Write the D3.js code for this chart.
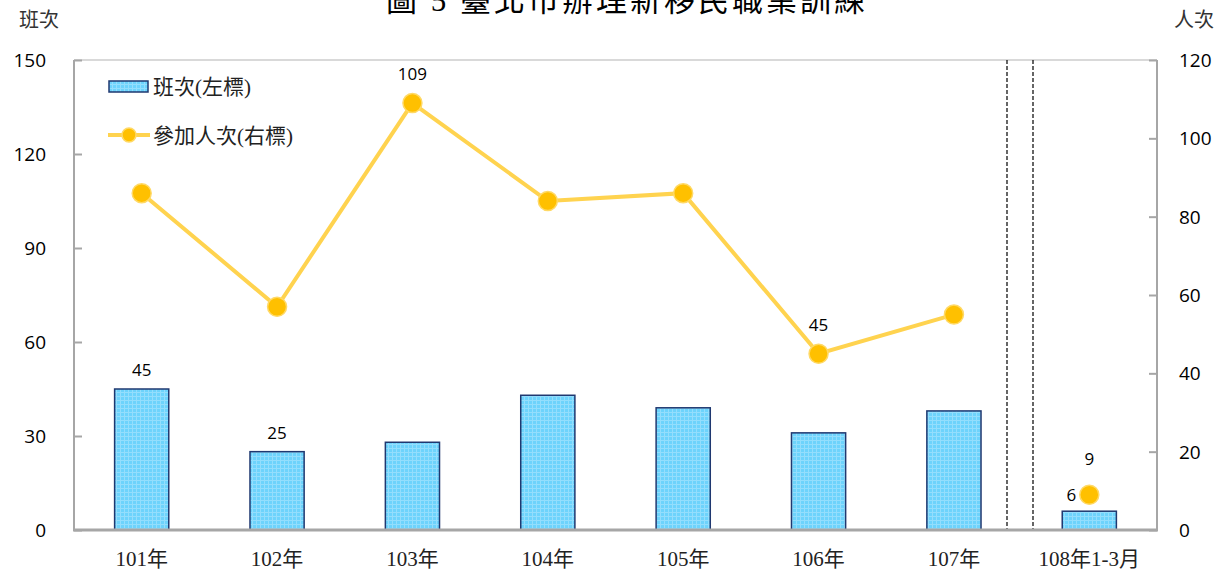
<!DOCTYPE html>
<html>
<head>
<meta charset="utf-8">
<script src="https://cdn.jsdelivr.net/npm/d3@7"></script>
<style>
body { margin: 0; background: #fff; }
</style>
</head>
<body>
<script>
var years = ["101年", "102年", "103年", "104年", "105年", "106年", "107年", "108年1-3月"];
var classes = [45, 25, 28, 43, 39, 31, 38, 6];
var people = [86, 57, 109, 84, 86, 45, 55, 9];
var leftTicks = [0, 30, 60, 90, 120, 150];
var rightTicks = [0, 20, 40, 60, 80, 100, 120];
// which bars / points carry a value label
var barLabels = [0, 1, 7];
var pointLabels = [2, 5, 7];

var width = 1231, height = 574;
var plotL = 74, plotR = 1157, plotT = 60, plotB = 530;
var serif = "'Liberation Serif', 'Noto Sans CJK TC', serif";
var sans = "'Open Sans', 'Noto Sans', sans-serif";

var svg = d3.select('body').append('svg')
        .attr('width', width)
        .attr('height', height);

// bar pattern
var defs = svg.append('defs');
var pat = defs.append('pattern')
        .attr('id', 'grid')
        .attr('patternUnits', 'userSpaceOnUse')
        .attr('width', 4)
        .attr('height', 4);
pat.append('rect').attr('width', 4).attr('height', 4).attr('fill', '#6dd3fc');
pat.append('path').attr('d', 'M0,0.5H4M0.5,0V4').attr('stroke', '#93defd').attr('stroke-width', 1);

var x = d3.scaleBand().domain(years).range([plotL, plotR]).paddingInner(0).paddingOuter(0);
var yL = d3.scaleLinear().domain([0, 150]).range([plotB, plotT]);
var yR = d3.scaleLinear().domain([0, 120]).range([plotB, plotT]);

// title (cut off at top, as in the source)
svg.append('text')
        .attr('x', 627)
        .attr('y', 11)
        .attr('text-anchor', 'middle')
        .attr('font-family', serif)
        .attr('font-size', 31)
        .attr('letter-spacing', 3)
        .text('圖 5 臺北市辦理新移民職業訓練');

// axis titles
svg.append('text').attr('x', 19).attr('y', 27).attr('font-family', serif).attr('font-size', 20).attr('fill', '#333').text('班次');
svg.append('text').attr('x', 1174).attr('y', 27).attr('font-family', serif).attr('font-size', 20).attr('fill', '#333').text('人次');

// frame top
svg.append('line').attr('x1', plotL).attr('x2', plotR).attr('y1', plotT).attr('y2', plotT)
        .attr('stroke', '#d9d9d9').attr('stroke-width', 2);

// bars
svg.selectAll('.bar').data(classes).enter().append('rect')
        .attr('x', function(d, i) { return x(years[i]) + x.bandwidth() * 0.3; })
        .attr('y', function(d) { return yL(d); })
        .attr('width', x.bandwidth() * 0.4)
        .attr('height', function(d) { return yL(0) - yL(d); })
        .attr('fill', 'url(#grid)')
        .attr('stroke', '#1f3870')
        .attr('stroke-width', 1.5);

// dashed separators
[1007, 1033].forEach(function(px) {
    svg.append('line').attr('x1', px).attr('x2', px).attr('y1', plotT).attr('y2', plotB)
            .attr('stroke', '#000').attr('stroke-width', 1.2).attr('stroke-dasharray', '4,2');
});

// left axis
var axL = svg.append('g').attr('transform', 'translate(' + plotL + ',0)')
        .call(d3.axisRight(yL).tickValues(leftTicks).tickSize(8).tickFormat(''));
axL.selectAll('line, path').attr('stroke', '#a6a6a6').attr('stroke-width', 2);
axL.select('.domain').attr('d', 'M0,' + plotT + 'V' + plotB);
svg.selectAll('.ltick').data(leftTicks).enter().append('text')
        .attr('x', 46).attr('y', function(d) { return yL(d) + 7; })
        .attr('text-anchor', 'end')
        .attr('font-family', sans).attr('font-size', 19)
        .text(function(d) { return d; });

// right axis
var axR = svg.append('g').attr('transform', 'translate(' + plotR + ',0)')
        .call(d3.axisLeft(yR).tickValues(rightTicks).tickSize(8).tickFormat(''));
axR.selectAll('line, path').attr('stroke', '#a6a6a6').attr('stroke-width', 2);
axR.select('.domain').attr('d', 'M0,' + plotT + 'V' + plotB);
svg.selectAll('.rtick').data(rightTicks).enter().append('text')
        .attr('x', 1179).attr('y', function(d) { return yR(d) + 7; })
        .attr('text-anchor', 'start')
        .attr('font-family', sans).attr('font-size', 19)
        .text(function(d) { return d; });

// bottom axis
svg.append('line').attr('x1', plotL - 1).attr('x2', plotR + 1).attr('y1', plotB).attr('y2', plotB)
        .attr('stroke', '#a6a6a6').attr('stroke-width', 3);
svg.selectAll('.xlab').data(years).enter().append('text')
        .attr('x', function(d) { return x(d) + x.bandwidth() / 2; })
        .attr('y', 566)
        .attr('text-anchor', 'middle')
        .attr('font-family', serif).attr('font-size', 21).attr('fill', '#222')
        .text(function(d) { return d; });

// line (first seven years connected, last one stands alone)
var lineFunc = d3.line()
        .x(function(d, i) { return x(years[i]) + x.bandwidth() / 2; })
        .y(function(d) { return yR(d); });
svg.append('path')
        .attr('d', lineFunc(people.slice(0, 7)))
        .attr('fill', 'none')
        .attr('stroke', '#ffd34f')
        .attr('stroke-width', 4);
svg.selectAll('.pt').data(people).enter().append('circle')
        .attr('cx', function(d, i) { return x(years[i]) + x.bandwidth() / 2; })
        .attr('cy', function(d) { return yR(d); })
        .attr('r', 9.5)
        .attr('fill', '#ffc000')
        .attr('stroke', '#ffd966')
        .attr('stroke-width', 1.5);

// value labels
barLabels.forEach(function(i) {
    var cx = x(years[i]) + x.bandwidth() / 2;
    var last = i === years.length - 1;
    svg.append('text')
            .attr('x', last ? cx - 18 : cx)
            .attr('y', last ? yR(people[i]) + 6 : yL(classes[i]) - 13)
            .attr('text-anchor', 'middle')
            .attr('font-family', sans).attr('font-size', 17)
            .text(classes[i]);
});
pointLabels.forEach(function(i) {
    var last = i === years.length - 1;
    svg.append('text')
            .attr('x', x(years[i]) + x.bandwidth() / 2)
            .attr('y', yR(people[i]) - (last ? 30 : 23))
            .attr('text-anchor', 'middle')
            .attr('font-family', sans).attr('font-size', 17)
            .text(people[i]);
});

// legend
svg.append('rect').attr('x', 109).attr('y', 81).attr('width', 39).attr('height', 11)
        .attr('fill', 'url(#grid)').attr('stroke', '#1f3870').attr('stroke-width', 1.5);
svg.append('text').attr('x', 153).attr('y', 94).attr('font-family', serif).attr('font-size', 21)
        .attr('fill', '#222').text('班次(左標)');
svg.append('line').attr('x1', 108).attr('x2', 150).attr('y1', 135).attr('y2', 135)
        .attr('stroke', '#ffd34f').attr('stroke-width', 4);
svg.append('circle').attr('cx', 129).attr('cy', 135).attr('r', 7)
        .attr('fill', '#ffc000').attr('stroke', '#ffd966').attr('stroke-width', 1.5);
svg.append('text').attr('x', 153).attr('y', 143).attr('font-family', serif).attr('font-size', 21)
        .attr('fill', '#222').text('參加人次(右標)');
</script>
</body>
</html>
